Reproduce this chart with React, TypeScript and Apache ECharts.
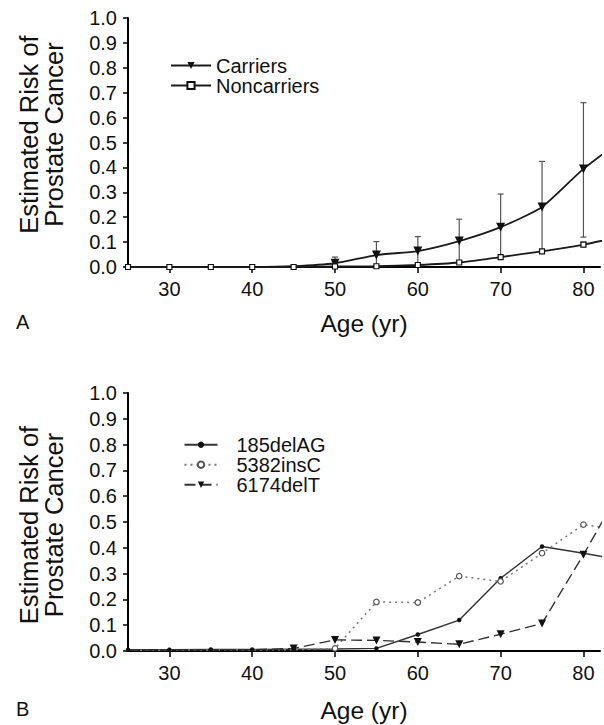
import React, { useEffect, useRef } from "react";
import * as echarts from "echarts";

// ---------- data ----------
const ages = [25, 30, 35, 40, 45, 50, 55, 60, 65, 70, 75, 80, 85];
const carriers = [0, 0, 0, 0, 0.003, 0.015, 0.048, 0.064, 0.104, 0.16, 0.241, 0.394, 0.52];
const noncarriers = [0, 0, 0, 0, 0, 0.002, 0.003, 0.008, 0.018, 0.04, 0.063, 0.09, 0.125];
const carrierErrAges = [50, 55, 60, 65, 70, 75, 80];
const carrierErrLow = [0.0, 0.005, 0.012, 0.025, 0.04, 0.068, 0.12];
const carrierErrHigh = [0.04, 0.102, 0.122, 0.192, 0.293, 0.424, 0.66];
const noncarrierErrAges = [80];
const noncarrierErrLow = [0.082];
const noncarrierErrHigh = [0.1];

const mut185delAG = [0.005, 0.005, 0.006, 0.006, 0.007, 0.008, 0.01, 0.064, 0.12, 0.282, 0.405, 0.379, 0.35];
const mut5382insC = [0.003, 0.003, 0.004, 0.004, 0.005, 0.01, 0.19, 0.188, 0.29, 0.27, 0.379, 0.49, 0.465];
const mut6174delT = [0.004, 0.004, 0.005, 0.005, 0.01, 0.043, 0.041, 0.035, 0.026, 0.065, 0.107, 0.373, 0.655];

const xTicks = [30, 40, 50, 60, 70, 80];
const yTitle = "Estimated Risk of\nProstate Cancer";
const xTitle = "Age (yr)";

const FONT = "'Liberation Sans', Arial, Helvetica, sans-serif";
const INK = "#111";

function pairs(xs: number[], ys: number[]) {
  return xs.map((x, i) => [x, ys[i]]);
}
function triples(xs: number[], lo: number[], hi: number[]) {
  return xs.map((x, i) => [x, lo[i], hi[i]]);
}
// markers are only visible once the curve leaves the baseline
function sizeAbove(size: number, threshold: number) {
  return (v: any) => (v && v[1] >= threshold ? size : 0);
}

function errorRender(params: any, api: any) {
  const x = api.value(0);
  const lo = api.value(1);
  const hi = api.value(2);
  const pLo = api.coord([x, lo]);
  const pHi = api.coord([x, hi]);
  const w = 3;
  const style = { stroke: "#555", lineWidth: 1.2 };
  return {
    type: "group",
    children: [
      { type: "line", shape: { x1: pLo[0], y1: pLo[1], x2: pHi[0], y2: pHi[1] }, style },
      { type: "line", shape: { x1: pHi[0] - w, y1: pHi[1], x2: pHi[0] + w, y2: pHi[1] }, style },
      { type: "line", shape: { x1: pLo[0] - w, y1: pLo[1], x2: pLo[0] + w, y2: pLo[1] }, style },
    ],
  };
}

function xAxisDef(gridIndex: number, gap: number) {
  return {
    type: "value",
    gridIndex,
    min: 25,
    max: 82,
    name: xTitle,
    nameLocation: "middle",
    nameGap: gap,
    nameTextStyle: { fontFamily: FONT, fontSize: 24.5, lineHeight: 25, color: INK },
    axisLine: { show: true, lineStyle: { color: "#000", width: 2 } },
    axisTick: { show: true, length: 6, lineStyle: { color: "#000", width: 1.5 }, customValues: xTicks },
    axisLabel: { fontFamily: FONT, fontSize: 20, color: INK, margin: 12, customValues: xTicks },
    splitLine: { show: false },
  };
}

function yAxisDef(gridIndex: number, pad: number[]) {
  return {
    type: "value",
    gridIndex,
    min: 0,
    max: 1,
    interval: 0.1,
    name: yTitle,
    nameLocation: "middle",
    nameRotate: 90,
    nameGap: 62,
    nameTextStyle: {
      fontFamily: FONT,
      fontSize: 25.5,
      color: INK,
      lineHeight: 25,
      align: "center",
      padding: pad,
    },
    axisLine: { show: true, lineStyle: { color: "#000", width: 2 } },
    axisTick: { show: true, length: 5, lineStyle: { color: "#000", width: 1.5 } },
    axisLabel: {
      fontFamily: FONT,
      fontSize: 20,
      color: INK,
      margin: 11,
      formatter: (v: number) => v.toFixed(1),
    },
    splitLine: { show: false },
  };
}

export default function App() {
  const ref = useRef<HTMLDivElement>(null);

  useEffect(() => {
    document.body.style.margin = "0";
    if (!ref.current) return;
    const chart = echarts.init(ref.current, null, { renderer: "svg" });

    const option: any = {
      animation: false,
      backgroundColor: "#fff",
      textStyle: { fontFamily: FONT },
      grid: [
        { left: 128, top: 18, width: 472, height: 249, containLabel: false },
        { left: 128, top: 393, width: 472, height: 258, containLabel: false },
      ],
      xAxis: [xAxisDef(0, 44), xAxisDef(1, 46.5)],
      yAxis: [yAxisDef(0, [0, 0, 0, 16]), yAxisDef(1, [0, 6, 0, 0])],
      legend: [
        {
          orient: "vertical",
          left: 165,
          top: 50.5,
          itemWidth: 40,
          itemHeight: 9,
          itemGap: 0,
          data: ["Carriers", "Noncarriers"],
          textStyle: { fontFamily: FONT, fontSize: 20, color: INK, lineHeight: 20, padding: [0, 0, 0, 0] },
        },
        {
          orient: "vertical",
          left: 178.5,
          top: 429.7,
          itemWidth: 33,
          itemHeight: 8,
          itemGap: 0,
          data: ["185delAG", "5382insC", "6174delT"],
          textStyle: { fontFamily: FONT, fontSize: 20, color: INK, lineHeight: 17.7, padding: [0, 0, 0, 14] },
        },
      ],
      graphic: [
        { type: "text", left: 16, top: 312, style: { text: "A", font: `20px ${FONT}`, fill: INK } },
        { type: "text", left: 16, top: 699, style: { text: "B", font: `20px ${FONT}`, fill: INK } },
      ],
      series: [
        {
          type: "custom",
          name: "carrierErr",
          xAxisIndex: 0,
          yAxisIndex: 0,
          renderItem: errorRender,
          encode: { x: 0, y: [1, 2] },
          data: triples(carrierErrAges, carrierErrLow, carrierErrHigh),
          z: 1,
        },
        {
          type: "custom",
          name: "noncarrierErr",
          xAxisIndex: 0,
          yAxisIndex: 0,
          renderItem: errorRender,
          encode: { x: 0, y: [1, 2] },
          data: triples(noncarrierErrAges, noncarrierErrLow, noncarrierErrHigh),
          z: 1,
        },
        {
          type: "line",
          name: "Carriers",
          xAxisIndex: 0,
          yAxisIndex: 0,
          data: pairs(ages, carriers),
          smooth: 0.2,
          symbol: "triangle",
          symbolRotate: 180,
          symbolSize: sizeAbove(9, 0.01),
          lineStyle: { color: "#1a1a1a", width: 1.8 },
          itemStyle: { color: "#111", borderWidth: 0 },
          z: 3,
        },
        {
          type: "line",
          name: "Noncarriers",
          xAxisIndex: 0,
          yAxisIndex: 0,
          data: pairs(ages, noncarriers),
          smooth: 0.2,
          symbol: "rect",
          symbolSize: 5,
          lineStyle: { color: "#1a1a1a", width: 1.8 },
          itemStyle: { color: "#fff", borderColor: "#111", borderWidth: 1.2 },
          z: 4,
        },
        {
          type: "line",
          name: "185delAG",
          xAxisIndex: 1,
          yAxisIndex: 1,
          data: pairs(ages, mut185delAG),
          symbol: "circle",
          symbolSize: 4.5,
          lineStyle: { color: "#333", width: 1.4 },
          itemStyle: { color: "#111", borderWidth: 0 },
          z: 3,
        },
        {
          type: "line",
          name: "5382insC",
          xAxisIndex: 1,
          yAxisIndex: 1,
          data: pairs(ages, mut5382insC),
          symbol: "circle",
          symbolSize: sizeAbove(5.5, 0.01),
          lineStyle: { color: "#777", width: 1.5, type: [2, 4] },
          itemStyle: { color: "#fff", borderColor: "#555", borderWidth: 1.2 },
          z: 3,
        },
        {
          type: "line",
          name: "6174delT",
          xAxisIndex: 1,
          yAxisIndex: 1,
          data: pairs(ages, mut6174delT),
          symbol: "triangle",
          symbolRotate: 180,
          symbolSize: sizeAbove(8, 0.01),
          lineStyle: { color: "#333", width: 1.4, type: [11, 5] },
          itemStyle: { color: "#111", borderWidth: 0 },
          z: 3,
        },
      ],
    };

    chart.setOption(option);
    return () => chart.dispose();
  }, []);

  return <div ref={ref} style={{ width: 604, height: 725 }} />;
}
